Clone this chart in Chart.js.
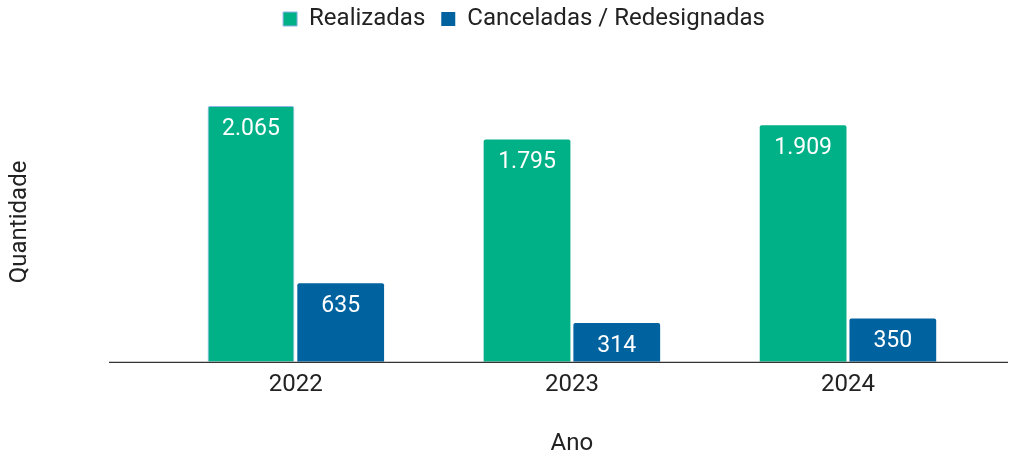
<!DOCTYPE html>
<html>
<head>
<meta charset="utf-8">
<script src="https://cdn.jsdelivr.net/npm/chart.js@4"></script>
<style>
  html, body { margin: 0; padding: 0; background: #fff; }
  #wrap { width: 1023px; height: 457px; }
</style>
</head>
<body>
<div id="wrap"><canvas id="grafico"></canvas></div>
<script>
const anos = ['2022', '2023', '2024'];
const realizadas = [2065, 1795, 1909];
const canceladas = [635, 314, 350];

const verde = 'rgb(0, 176, 135)';
const azul = 'rgb(0, 99, 160)';

function formata(n) {
    return String(n).replace(/\B(?=(\d{3})+(?!\d))/g, '.');
}

// rótulos brancos dentro das barras, no topo
const rotulosPlugin = {
    id: 'rotulos',
    afterDatasetsDraw(chart) {
        const ctx = chart.ctx;
        ctx.save();
        ctx.font = '23px Roboto';
        ctx.fillStyle = '#fff';
        ctx.textAlign = 'center';
        ctx.textBaseline = 'middle';
        chart.data.datasets.forEach((ds, i) => {
            chart.getDatasetMeta(i).data.forEach((bar, j) => {
                ctx.fillText(formata(ds.data[j]), bar.x, bar.y + 23);
            });
        });
        ctx.restore();
    }
};

// linha de base mais larga que a área das categorias
const baseLinePlugin = {
    id: 'baseLine',
    afterDatasetsDraw(chart) {
        const ctx = chart.ctx;
        const y = chart.chartArea.bottom + 0.5;
        ctx.save();
        ctx.strokeStyle = '#333';
        ctx.lineWidth = 1.2;
        ctx.beginPath();
        ctx.moveTo(109, y);
        ctx.lineTo(1008, y);
        ctx.stroke();
        ctx.restore();
    }
};

// mais espaço abaixo da legenda e legenda um pouco deslocada
const legendaPlugin = {
    id: 'legendaEspaco',
    beforeInit(chart) {
        const fitOrig = chart.legend.fit;
        chart.legend.fit = function () {
            fitOrig.bind(chart.legend)();
            this.height += 32;
        };
    },
    afterLayout(chart) {
        chart.legend.left += 31;
        chart.legend.right += 31;
        chart.legend.top -= 9;
    }
};

const fonte = { family: 'Roboto', size: 24 };

const data = {
    labels: anos,
    datasets: [{
        label: 'Realizadas',
        data: realizadas,
        backgroundColor: verde,
        borderColor: 'rgb(140, 180, 230)',
        borderWidth: [1, 0, 0],
        borderRadius: 2,
        borderSkipped: 'bottom',
        categoryPercentage: 0.65,
        barPercentage: 0.967
    }, {
        label: 'Canceladas / Redesignadas',
        data: canceladas,
        backgroundColor: azul,
        borderRadius: 2,
        borderSkipped: 'bottom',
        categoryPercentage: 0.65,
        barPercentage: 0.967
    }]
};

const config = {
    type: 'bar',
    data: data,
    plugins: [rotulosPlugin, baseLinePlugin, legendaPlugin],
    options: {
        responsive: true,
        maintainAspectRatio: false,
        animation: false,
        layout: { padding: { left: 0, right: 37, top: 0, bottom: 0 } },
        plugins: {
            legend: {
                position: 'top',
                labels: {
                    font: fonte,
                    color: '#222',
                    boxWidth: 14,
                    boxHeight: 14,
                    padding: 16
                }
            },
            tooltip: { enabled: false }
        },
        scales: {
            x: {
                grid: { display: false, drawTicks: false },
                border: { display: false },
                ticks: { font: fonte, color: '#222', padding: 9 },
                title: { display: true, text: 'Ano', font: { family: 'Roboto', size: 24, lineHeight: 1.1 }, color: '#222', padding: { top: 22, bottom: 0 } }
            },
            y: {
                min: 0,
                max: 2259,
                grid: { display: false, drawTicks: false },
                border: { display: false },
                ticks: { display: false },
                title: { display: true, text: 'Quantidade', font: fonte, color: '#222', padding: { top: 6, bottom: 123 } }
            }
        }
    }
};

new Chart(document.getElementById('grafico'), config);
</script>
</body>
</html>
